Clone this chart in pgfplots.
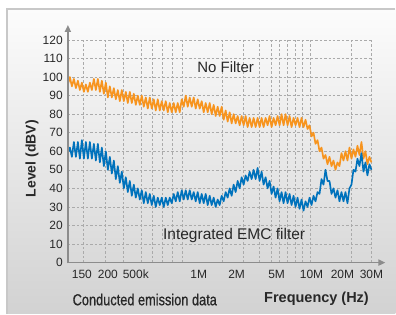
\documentclass[border=0pt]{standalone}
\usepackage{pgfplots}
\pgfplotsset{compat=1.18}
\usepackage{fontspec}
\setmainfont{Liberation Sans}
\newfontfamily\condfont[FakeStretch=0.8,FakeBold=0.6]{Liberation Sans}
\usetikzlibrary{arrows.meta}
\definecolor{nofilt}{RGB}{247,148,30}
\definecolor{emc}{RGB}{0,114,188}
\definecolor{axgray}{RGB}{140,140,140}
\definecolor{gridgray}{RGB}{170,170,170}
\definecolor{txt}{RGB}{40,40,40}
\definecolor{bgtop}{RGB}{252,252,252}
\definecolor{bgbot}{RGB}{210,210,210}
\definecolor{frame}{RGB}{200,200,200}
\begin{document}
\begin{tikzpicture}[x=1pt,y=1pt]
\fill[white] (0,0) rectangle (396,314);
\shade[top color=bgtop, bottom color=bgbot] (7,0) rectangle (396,305);
\draw[frame, line width=1.2pt] (7,0) -- (7,305) -- (396,305);
\begin{axis}[
  at={(68pt,51pt)}, anchor=south west,
  scale only axis, width=304pt, height=223pt,
  xmin=68, xmax=372, ymin=0, ymax=120,
  axis line style={draw=none},
  xtick={82,108,136,199,237,277,312,343,372},
  xticklabels={150,200,500k,1M,2M,5M,10M,20M,30M},
  minor xtick={83,105,123,142,153,163,173,183,223,244,260,272,280,288,296,303,311,352,372},
  xminorgrids, ymajorgrids,
  ytick={0,10,...,120},
  major tick length=0pt, minor tick length=0pt,
  tick style={draw=none},
  grid style={gridgray, dash pattern=on 2.5pt off 2pt, line width=0.6pt},
  minor grid style={gridgray, dash pattern=on 2.5pt off 2pt, line width=0.6pt},
  tick label style={font=\fontsize{12}{13}\selectfont, text=txt},
  xticklabel style={anchor=north, inner sep=0pt, yshift=-7pt},
  yticklabel style={anchor=east, inner sep=0pt, xshift=-5pt},
  /pgf/number format/assume math mode=true,
  clip=false,
]
\addplot[nofilt, line width=1.65pt, line join=round] coordinates {
(68,96)(70,100)(72,95)(74,99)(76,94)(78,98)(80,93)(82,97)(84,92)(86,96)
(88,92)(90,97)(92,93)(94,99)(96,93)(98,99)(100,92)(102,98)(104,91)(106,97)
(108,89)(110,95)(112,89)(114,94)(116,88)(118,93)(120,87)(122,93)(124,87)(126,92)
(128,86)(130,92)(132,86)(134,91)(136,85)(138,90)(140,85)(142,90)(144,84)(146,89)
(148,83)(150,89)(152,83)(154,88)(156,82)(158,88)(160,82)(162,87)(164,82)(166,87)
(168,81)(170,86)(172,81)(174,86)(176,81)(178,86)(180,81)(182,88)(184,84)(186,90)
(188,84)(190,89)(192,84)(194,89)(196,83)(198,88)(200,83)(202,87)(204,81)(206,86)
(208,81)(210,86)(212,80)(214,85)(216,79)(218,84)(220,79)(222,84)(224,77)(226,82)
(228,76)(230,81)(232,75)(234,80)(236,75)(238,79)(240,74)(242,79)(244,74)(246,79)
(248,73)(250,78)(252,73)(254,78)(256,73)(258,78)(260,73)(262,78)(264,73)(266,78)
(268,74)(270,79)(272,73)(274,78)(276,74)(278,79)(280,74)(282,80)(284,74)(286,80)
(288,74)(290,79)(292,73)(294,78)(296,74)(298,78)(300,73)(302,78)(304,73)(306,77)
(308,72)(310,74)(312,68)(314,70)(316,64)(318,66)(320,60)(322,62)(324,56)(326,58)
(328,53)(330,57)(332,52)(334,55)(336,50)(338,54)(340,52)(342,59)(344,55)(346,60)
(348,55)(350,62)(352,56)(354,61)(356,57)(358,63)(360,58)(362,65)(364,56)(366,60)
(368,53)(370,57)(372,54)
};
\addplot[emc, line width=1.65pt, line join=round] coordinates {
(68,59)(70,62)(72,57)(74,65)(76,57)(78,65)(80,56)(82,66)(84,56)(86,65)
(88,56)(90,65)(92,56)(94,64)(96,55)(98,64)(100,54)(102,62)(104,52)(106,60)
(108,50)(110,57)(112,48)(114,55)(116,45)(118,52)(120,43)(122,49)(124,40)(126,46)
(128,38)(130,44)(132,36)(134,42)(136,35)(138,40)(140,34)(142,39)(144,32)(146,38)
(148,32)(150,37)(152,31)(154,36)(156,30)(158,35)(160,31)(162,35)(164,30)(166,35)
(168,31)(170,35)(172,32)(174,37)(176,33)(178,38)(180,33)(182,39)(184,34)(186,39)
(188,34)(190,39)(192,34)(194,38)(196,33)(198,38)(200,32)(202,37)(204,32)(206,37)
(208,31)(210,36)(212,31)(214,35)(216,30)(218,34)(220,31)(222,36)(224,33)(226,38)
(228,35)(230,40)(232,36)(234,42)(236,38)(238,44)(240,40)(242,46)(244,42)(246,47)
(248,44)(250,49)(252,45)(254,50)(256,45)(258,51)(260,44)(262,49)(264,42)(266,46)
(268,40)(270,44)(272,37)(274,41)(276,35)(278,40)(280,33)(282,38)(284,32)(286,38)
(288,32)(290,37)(292,31)(294,36)(296,30)(298,35)(300,29)(302,34)(304,28)(306,33)
(308,30)(310,35)(312,31)(314,36)(316,33)(318,38)(320,37)(322,45)(324,42)(326,50)
(328,44)(330,44)(332,37)(334,40)(336,35)(338,39)(340,33)(342,38)(344,33)(346,38)
(348,32)(350,40)(352,42)(354,50)(356,49)(358,56)(360,52)(362,59)(364,49)(366,54)
(368,47)(370,53)(372,50)
};
\end{axis}
\draw[axgray, line width=1.8pt, -{Triangle[length=7pt,width=6pt]}] (68,50.1) -- (68,289);
\draw[axgray, line width=1.8pt, -{Triangle[length=7pt,width=6pt]}] (67.1,51) -- (386,51);
\node[font=\fontsize{15}{17}\selectfont, text=txt] at (226,247) {No Filter};
\node[font=\fontsize{15.5}{17}\selectfont, text=txt] at (234.5,78) {Integrated EMC filter};
\node[rotate=90, font=\bfseries\fontsize{14}{16}\selectfont, text=txt] at (32,155) {Level (dBV)};
\node[font=\condfont\fontsize{16}{18}\selectfont, text=txt] at (145,14) {Conducted emission data};
\node[font=\bfseries\fontsize{14.5}{16}\selectfont, text=txt] at (317,15) {Frequency (Hz)};
\end{tikzpicture}
\end{document}
